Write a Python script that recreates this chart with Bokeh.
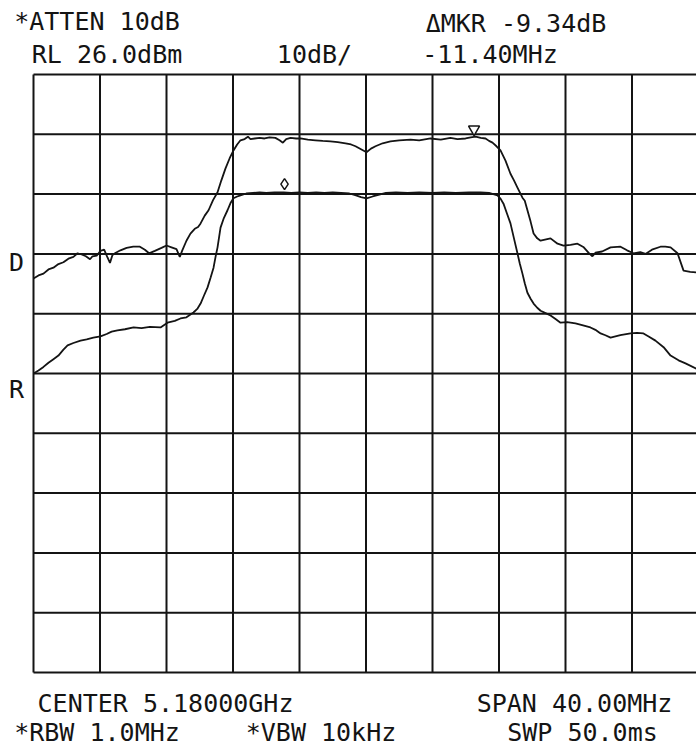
from bokeh.plotting import figure
from bokeh.models import Range1d, Label
from bokeh.embed import file_html
from bokeh.resources import INLINE

# Display settings (spectrum analyzer screen)
center_ghz = 5.18
span_mhz = 40.0
ref_level_dbm = 26.0
db_per_div = 10.0

# Graticule divisions: frequency offset from centre (MHz) and level (dBm)
x_div = [-20, -16, -12, -8, -4, 0, 4, 8, 12, 16, 20]
y_div = [26, 16, 6, -4, -14, -24, -34, -44, -54, -64, -74]

# Upper trace: frequency offset (MHz) and level (dBm)
upper_f = [-20.00, -19.70, -19.40, -19.10, -18.80, -18.50, -18.20, -17.90, -17.60, -17.35,
           -17.10, -16.85, -16.60, -16.45, -16.20, -15.97, -15.75, -15.55, -15.40, -15.25,
           -15.05, -14.77, -14.40, -14.00, -13.60, -13.30, -13.05, -12.70, -12.30, -12.00,
           -11.70, -11.40, -11.20, -11.05, -10.80, -10.56, -10.30, -10.10, -9.95, -9.70,
           -9.47, -9.20, -8.93, -8.70, -8.45, -8.20, -7.97, -7.75, -7.55, -7.30,
           -7.10, -6.95, -6.70, -6.40, -6.10, -5.80, -5.45, -5.20, -5.00, -4.80,
           -4.54, -4.20, -3.94, -3.50, -3.04, -2.60, -2.14, -1.70, -1.23, -0.90,
           -0.63, -0.30, 0.03, 0.30, 0.57, 1.00, 1.47, 2.00, 2.68, 3.20,
           3.88, 4.50, 5.08, 5.50, 5.99, 6.30, 6.59, 6.90, 7.19, 7.40,
           7.61, 7.85, 8.09, 8.39, 8.69, 8.90, 9.11, 9.41, 9.55, 9.71,
           9.90, 10.08, 10.30, 10.50, 11.10, 11.52, 11.88, 12.30, 12.72, 13.10,
           13.38, 13.62, 13.80, 14.20, 14.71, 15.31, 15.70, 16.09, 16.50, 16.81,
           17.20, 17.71, 18.00, 18.32, 18.74, 19.10, 19.50, 19.88]
upper_db = [-8.1, -7.6, -7.3, -6.6, -6.3, -5.7, -5.4, -4.8, -4.5, -3.9,
            -4.1, -4.4, -4.9, -4.4, -4.3, -3.5, -3.3, -4.6, -5.5, -4.2,
            -3.8, -3.4, -3.0, -2.8, -2.8, -3.3, -3.9, -3.5, -3.0, -2.6,
            -2.9, -3.2, -4.5, -3.4, -1.8, -0.6, 0.2, 0.5, 1.1, 2.4,
            3.3, 5.0, 6.3, 8.3, 10.3, 12.0, 13.3, 14.3, 15.0, 15.2,
            15.6, 15.2, 15.3, 15.4, 15.3, 15.5, 15.4, 15.0, 14.6, 15.2,
            15.4, 15.3, 15.3, 15.1, 15.0, 14.9, 14.8, 14.7, 14.5, 14.3,
            14.0, 13.5, 13.0, 13.6, 14.0, 14.5, 14.8, 15.0, 15.1, 15.0,
            15.3, 15.1, 15.4, 15.2, 15.3, 15.5, 15.6, 15.4, 15.3, 14.9,
            14.6, 14.0, 13.3, 11.6, 9.4, 8.3, 7.1, 5.4, 4.9, 3.3,
            1.4, -0.6, -1.4, -1.8, -1.4, -2.3, -2.6, -2.5, -2.3, -2.9,
            -3.8, -4.4, -3.8, -3.6, -2.9, -2.8, -3.4, -3.9, -3.7, -4.0,
            -3.3, -2.8, -2.8, -2.9, -3.9, -6.8, -7.0, -7.1]

# Lower trace: frequency offset (MHz) and level (dBm)
lower_f = [-20.00, -19.70, -19.40, -19.10, -18.80, -18.50, -18.20, -17.95, -17.60, -17.17,
           -16.80, -16.40, -15.97, -15.60, -15.30, -14.95, -14.50, -13.98, -13.50, -13.00,
           -12.36, -11.94, -11.50, -11.16, -10.80, -10.38, -10.15, -9.95, -9.75, -9.53,
           -9.35, -9.17, -9.05, -8.93, -8.75, -8.55, -8.33, -8.15, -7.97, -7.75,
           -7.55, -7.20, -6.80, -6.40, -6.00, -5.50, -4.96, -4.50, -4.00, -3.50,
           -3.00, -2.50, -2.00, -1.50, -1.00, -0.60, -0.30, 0.03, 0.40, 0.80,
           1.20, 1.80, 2.50, 3.20, 4.00, 4.70, 5.40, 6.20, 6.89, 7.40,
           7.91, 8.10, 8.27, 8.50, 8.69, 8.90, 9.11, 9.25, 9.41, 9.55,
           9.71, 9.90, 10.08, 10.30, 10.50, 10.80, 11.10, 11.40, 11.70, 12.10,
           12.60, 13.00, 13.50, 13.80, 14.11, 14.40, 14.71, 15.30, 15.91, 16.30,
           16.69, 17.00, 17.41, 17.90, 18.32, 18.80, 19.22, 19.88]
lower_db = [-24.0, -23.5, -22.9, -22.2, -21.6, -21.0, -20.0, -19.3, -18.9, -18.5,
            -18.3, -18.0, -17.8, -17.4, -17.0, -16.8, -16.6, -16.3, -16.4, -16.2,
            -16.3, -15.5, -15.2, -14.8, -14.6, -13.8, -13.2, -12.3, -11.0, -9.6,
            -8.0, -6.3, -4.5, -2.9, 0.4, 2.0, 3.3, 4.5, 5.3, 5.6,
            5.8, 6.1, 6.2, 6.3, 6.2, 6.3, 6.3, 6.2, 6.3, 6.2,
            6.3, 6.2, 6.3, 6.2, 6.1, 5.8, 5.5, 5.3, 5.6, 5.9,
            6.2, 6.3, 6.2, 6.3, 6.2, 6.3, 6.2, 6.3, 6.3, 6.2,
            5.8, 5.2, 4.4, 2.6, 1.1, -1.4, -3.9, -5.6, -7.3, -8.9,
            -10.5, -11.5, -12.3, -13.0, -13.5, -13.9, -14.3, -14.9, -15.5, -15.4,
            -15.6, -15.9, -16.3, -16.7, -17.3, -17.6, -18.0, -17.6, -17.3, -17.2,
            -17.3, -17.8, -18.5, -19.6, -21.0, -21.8, -22.3, -23.2]

# Markers: reference marker and delta marker readout
marker_f = 6.50
marker_db = 15.5
delta_db = -9.34
delta_mhz = -11.40

# Screen geometry (pixels); the plotting frame covers the whole canvas
W, H = 696, 749
px_per_mhz = 66.5 / 4.0
px_per_db = 59.8 / 10.0
grid_left_px, grid_top_px = 33, 74


def to_data(px, py):
    return (x_div[0] + (px - grid_left_px) / px_per_mhz,
            y_div[0] - (py - grid_top_px) / px_per_db)


x0, y_top = to_data(0, 0)
x1, y_bot = to_data(W, H)

p = figure(width=W, height=H, output_backend="svg", toolbar_location=None,
           x_range=Range1d(x0, x1), y_range=Range1d(y_bot, y_top),
           min_border=0)
p.axis.visible = False
p.xgrid.visible = False
p.ygrid.visible = False
p.outline_line_color = None
p.background_fill_color = "white"
p.border_fill_color = "white"

ink = "#141414"

# Graticule
p.segment(x0=x_div, x1=x_div, y0=[y_div[0]] * len(x_div), y1=[y_div[-1]] * len(x_div),
          line_color=ink, line_width=2)
p.segment(x0=[x_div[0]] * len(y_div), x1=[x_div[-1]] * len(y_div), y0=y_div, y1=y_div,
          line_color=ink, line_width=2)

# Traces
p.line(upper_f, upper_db, line_color=ink, line_width=1.8)
p.line(lower_f, lower_db, line_color=ink, line_width=1.8)

# Marker symbols drawn just above the trace points
p.scatter([marker_f], [marker_db + 8 / px_per_db], marker="inverted_triangle", size=11,
          fill_color="white", line_color=ink, line_width=1.5)
p.scatter([marker_f + delta_mhz], [marker_db + delta_db + 9 / px_per_db], marker="diamond",
          size=11, fill_color="white", line_color=ink, line_width=1.5)

# Annotation text; the renderer draws glyphs a little below the given baseline
text_shift_px = 8.5


def add_text(txt, cx, baseline):
    x, y = to_data(cx, baseline - text_shift_px)
    p.add_layout(Label(x=x, y=y, text=txt, text_font="DejaVu Sans Mono",
                       text_font_size="25px", text_color=ink, text_align="center",
                       text_baseline="alphabetic"))


add_text("*ATTEN 10dB", 96.5, 29.5)
add_text("RL 26.0dBm", 106.5, 62)
add_text("10dB/", 314, 62)
add_text("\u0394MKR -9.34dB", 515.5, 31)
add_text("-11.40MHz", 489.5, 62)
add_text("CENTER 5.18000GHz", 165, 711)
add_text("SPAN 40.00MHz", 574, 711)
add_text("*RBW 1.0MHz", 96.5, 740)
add_text("*VBW 10kHz", 320.5, 740)
add_text("SWP 50.0ms", 582, 740)
add_text("D", 16, 270)
add_text("R", 16, 397)

open("out.html", "w").write(file_html(p, INLINE))
